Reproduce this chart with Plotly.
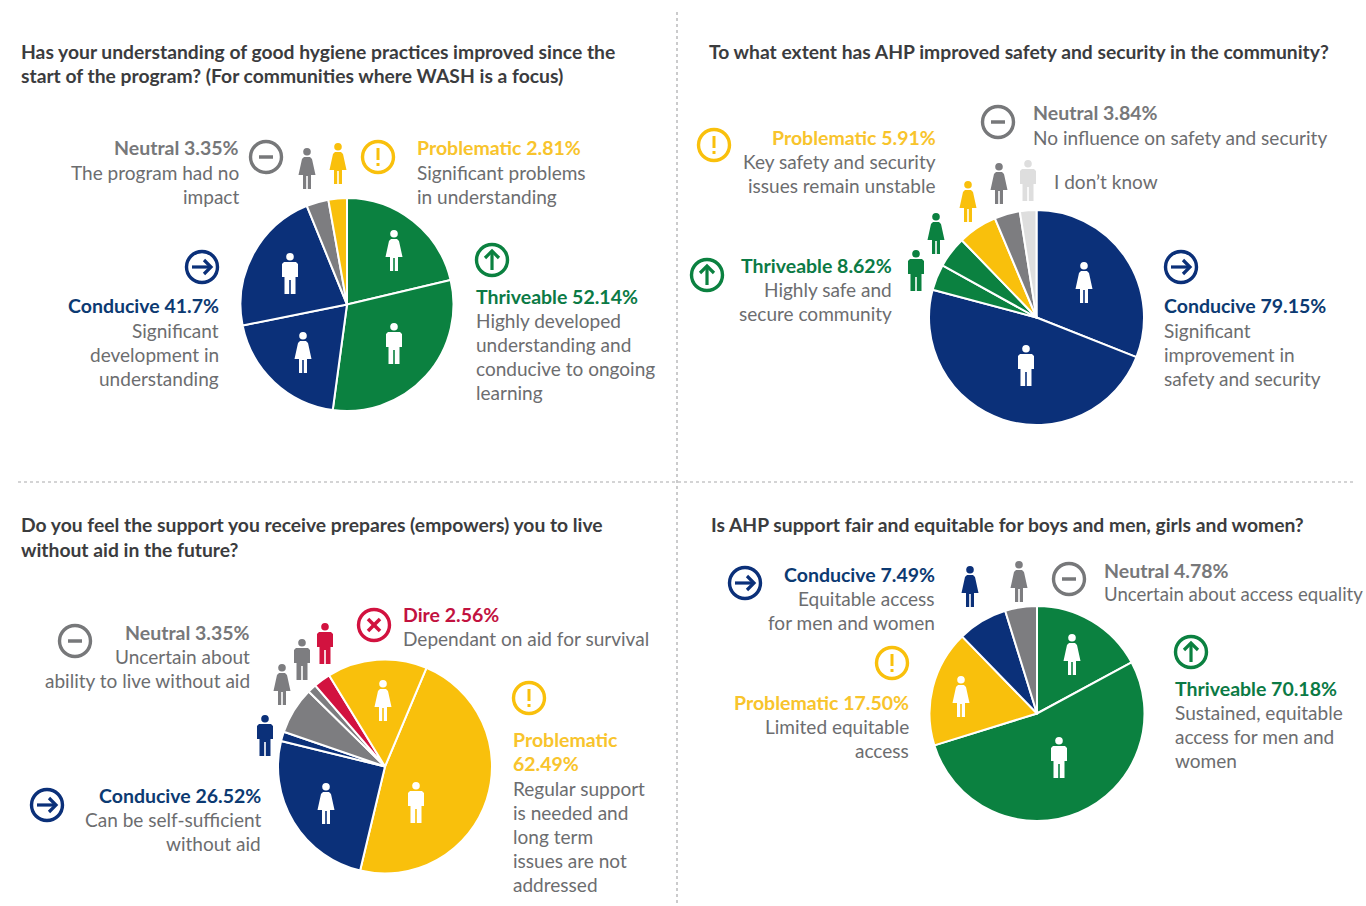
import plotly.graph_objects as go

W, H = 1366, 906
GREEN, BLUE, YELLOW, GREY, LIGHT, RED = "#0b8140", "#0b3079", "#f9c00c", "#7d7d80", "#dedede", "#d2123f"
T_GREEN, T_BLUE, T_YELLOW, T_GREY, T_RED = "#0b7a45", "#0c3a72", "#f8c42c", "#77787a", "#c2123f"
BODY, TITLE = "#6c6d6f", "#3b3c3e"
FONT = "Lato"

# ---- pie data (clockwise from the start angle) ----
pie1_names = ["Thriveable (women)", "Thriveable (men)", "Conducive (women)", "Conducive (men)", "Neutral", "Problematic"]
pie1_values = [21.3, 30.84, 19.7, 22.0, 3.35, 2.81]
pie1_colors = [GREEN, GREEN, BLUE, BLUE, GREY, YELLOW]

pie2_names = ["Conducive (women)", "Conducive (men)", "Thriveable (men)", "Thriveable (women)", "Problematic", "Neutral", "I don't know"]
pie2_values = [31.0, 48.15, 3.9, 4.72, 5.91, 3.84, 2.48]
pie2_colors = [BLUE, BLUE, GREEN, GREEN, YELLOW, GREY, LIGHT]

pie3_names = ["Problematic (men)", "Conducive (women)", "Conducive (men)", "Neutral (women)", "Neutral (men)", "Dire", "Problematic (women)"]
pie3_values = [47.4, 25.1, 1.42, 7.1, 1.33, 2.56, 15.09]
pie3_colors = [YELLOW, BLUE, BLUE, GREY, GREY, RED, YELLOW]

pie4_names = ["Thriveable (women)", "Thriveable (men)", "Problematic", "Conducive", "Neutral"]
pie4_values = [17.1, 53.08, 17.5, 7.49, 4.78]
pie4_colors = [GREEN, GREEN, YELLOW, BLUE, GREY]

# (names, values, colours, centre x, centre y, radius, start angle)
pies = [
    (pie1_names, pie1_values, pie1_colors, 347, 304.5, 106.5, 0),
    (pie2_names, pie2_values, pie2_colors, 1036.5, 317.5, 107.5, 0),
    (pie3_names, pie3_values, pie3_colors, 385, 766.5, 107, 22.8),
    (pie4_names, pie4_values, pie4_colors, 1037, 713.5, 107.5, 0),
]

# ---- text: x, anchor, first y, colour of first line, lines ----
titles = [
    (21, 52, "Has your understanding of good hygiene practices improved since the"),
    (21, 76, "start of the program? (For communities where WASH is a focus)"),
    (709, 52, "To what extent has AHP improved safety and security in the community?"),
    (21, 524, "Do you feel the support you receive prepares (empowers) you to live"),
    (21, 549, "without aid in the future?"),
    (711, 524, "Is AHP support fair and equitable for boys and men, girls and women?"),
]
blocks = [
    (239, "right", 148, T_GREY, ["Neutral 3.35%", "The program had no", "impact"]),
    (417, "left", 148, T_YELLOW, ["Problematic 2.81%", "Significant problems", "in understanding"]),
    (219, "right", 306, T_BLUE, ["Conducive 41.7%", "Significant", "development in", "understanding"]),
    (476, "left", 296, T_GREEN, ["Thriveable 52.14%", "Highly developed", "understanding and", "conducive to ongoing", "learning"]),
    (1033, "left", 113, T_GREY, ["Neutral 3.84%", "No influence on safety and security"]),
    (936, "right", 137, T_YELLOW, ["Problematic 5.91%", "Key safety and security", "issues remain unstable"]),
    (892, "right", 265, T_GREEN, ["Thriveable 8.62%", "Highly safe and", "secure community"]),
    (1164, "left", 306, T_BLUE, ["Conducive 79.15%", "Significant", "improvement in", "safety and security"]),
    (250, "right", 632, T_GREY, ["Neutral 3.35%", "Uncertain about", "ability to live without aid"]),
    (403, "left", 614, T_RED, ["Dire 2.56%", "Dependant on aid for survival"]),
    (513, "left", 739, T_YELLOW, ["Problematic", "62.49%"]),
    (261, "right", 795, T_BLUE, ["Conducive 26.52%", "Can be self-sufficient", "without aid"]),
    (935, "right", 574, T_BLUE, ["Conducive 7.49%", "Equitable access", "for men and women"]),
    (1104, "left", 570, T_GREY, ["Neutral 4.78%", "Uncertain about access equality"]),
    (909, "right", 702, T_YELLOW, ["Problematic 17.50%", "Limited equitable", "access"]),
    (1175, "left", 688, T_GREEN, ["Thriveable 70.18%", "Sustained, equitable", "access for men and", "women"]),
]
plain_blocks = [
    (1054, "left", 181, ["I don\u2019t know"]),
    (513, "left", 788, ["Regular support", "is needed and", "long term", "issues are not", "addressed"]),
]

# ---- icons ----
rings = [  # cx, cy, colour, glyph
    (266, 157, T_GREY, "minus"), (378, 157, YELLOW, "bang"), (492, 260, GREEN, "up"), (202, 267, BLUE, "right"),
    (998, 122, T_GREY, "minus"), (714, 145, YELLOW, "bang"), (707, 275, GREEN, "up"), (1181, 267, BLUE, "right"),
    (75, 641, T_GREY, "minus"), (374, 625, RED, "x"), (529, 698, YELLOW, "bang"), (47, 805, BLUE, "right"),
    (745, 583, BLUE, "right"), (1069, 579, T_GREY, "minus"), (892, 663, YELLOW, "bang"), (1191, 652, GREEN, "up"),
]
people = [  # cx, top, kind, colour
    (307, 148, "w", GREY), (338, 143, "w", YELLOW), (394, 230, "w", "white"), (394, 323, "m", "white"),
    (290, 253, "m", "white"), (303, 332, "w", "white"),
    (999, 163, "w", GREY), (1028, 160, "m", LIGHT), (968, 181, "w", YELLOW), (936, 213, "w", GREEN),
    (916, 250, "m", GREEN), (1084, 262, "w", "white"), (1026, 345, "m", "white"),
    (282, 664, "w", GREY), (302, 639, "m", GREY), (325, 623, "m", RED), (265, 715, "m", BLUE),
    (383, 680, "w", "white"), (416, 782, "m", "white"), (326, 783, "w", "white"),
    (970, 566, "w", BLUE), (1019, 561, "w", GREY), (1072, 634, "w", "white"), (1059, 737, "m", "white"),
    (961, 676, "w", "white"),
]

MAN = [(-6, 9), (6, 9), (8, 11), (8, 24), (5.5, 24), (5.5, 41), (0.8, 41), (0.8, 27), (-0.8, 27), (-0.8, 41), (-5.5, 41), (-5.5, 24), (-8, 24), (-8, 11)]
WOMAN = [(-3, 9), (3, 9), (5, 11), (8.5, 27), (4, 27), (4, 41), (0.8, 41), (0.8, 28), (-0.8, 28), (-0.8, 41), (-4, 41), (-4, 27), (-8.5, 27), (-5, 11)]


def fx(x):
    return x / W


def fy(y):
    return 1 - y / H


def polygon(pts):
    return "M" + " L".join(f"{fx(x):.5f},{fy(y):.5f}" for x, y in pts) + " Z"


shapes = []


def seg(pts, color, width=3):
    d = "M" + " L".join(f"{fx(x):.5f},{fy(y):.5f}" for x, y in pts)
    shapes.append(dict(type="path", xref="paper", yref="paper", path=d, line=dict(color=color, width=width)))


for cx, cy, color, glyph in rings:
    r = 15.5
    shapes.append(dict(type="circle", xref="paper", yref="paper", x0=fx(cx - r), x1=fx(cx + r), y0=fy(cy + r), y1=fy(cy - r),
                       line=dict(color=color, width=3.4), fillcolor="rgba(0,0,0,0)"))
    if glyph == "minus":
        seg([(cx - 7, cy), (cx + 7, cy)], color, 3.5)
    elif glyph == "bang":
        seg([(cx, cy - 9), (cx, cy + 3)], color, 3)
        seg([(cx, cy + 6), (cx, cy + 9)], color, 3)
    elif glyph == "right":
        seg([(cx - 10, cy), (cx + 9, cy)], color, 3.2)
        seg([(cx + 2, cy - 7), (cx + 9, cy), (cx + 2, cy + 7)], color, 3.2)
    elif glyph == "up":
        seg([(cx, cy + 10), (cx, cy - 9)], color, 3.2)
        seg([(cx - 7, cy - 2), (cx, cy - 9), (cx + 7, cy - 2)], color, 3.2)
    elif glyph == "x":
        seg([(cx - 6, cy - 6), (cx + 6, cy + 6)], color, 3.5)
        seg([(cx - 6, cy + 6), (cx + 6, cy - 6)], color, 3.5)

for cx, top, kind, color in people:
    pts = MAN if kind == "m" else WOMAN
    shapes.append(dict(type="path", xref="paper", yref="paper", path=polygon([(cx + a, top + b) for a, b in pts]),
                       fillcolor=color, line=dict(width=0)))
    shapes.append(dict(type="circle", xref="paper", yref="paper", x0=fx(cx - 3.8), x1=fx(cx + 3.8),
                       y0=fy(top + 7.6), y1=fy(top + 0), fillcolor=color, line=dict(width=0)))

# dashed dividers
for x0, y0, x1, y1 in [(677, 12, 677, 903), (18, 482, 1356, 482)]:
    shapes.append(dict(type="line", xref="paper", yref="paper", x0=fx(x0), x1=fx(x1), y0=fy(y0), y1=fy(y1),
                       line=dict(color="#a9a9ab", width=1.2, dash="3px,3px")))

annotations = []


def text(x, y, s, color, anchor="left", size=19.05, bold=False):
    annotations.append(dict(x=fx(x), y=fy(y), xref="paper", yref="paper", xanchor=anchor, yanchor="middle",
                            text=f"<b>{s}</b>" if bold else s, showarrow=False, align=anchor,
                            borderpad=0, borderwidth=0,
                            font=dict(family=FONT, size=size, color=color)))


LINE = 24.2
HEAD_SIZE = 19.5
for x, y, s in titles:
    text(x, y, s, TITLE, size=19.3, bold=True)
for x, anchor, y0, color, lines in blocks:
    n_head = 2 if lines[0] == "Problematic" and lines[1] == "62.49%" else 1
    for i, ln in enumerate(lines):
        head = i < n_head
        size = HEAD_SIZE if head else (18.6 if ln.startswith("Uncertain about access") else 19.05)
        text(x, y0 + i * LINE, ln, color if head else BODY, anchor, size=size, bold=head)
for x, anchor, y0, lines in plain_blocks:
    for i, ln in enumerate(lines):
        text(x, y0 + i * LINE, ln, BODY, anchor)

fig = go.Figure()
for names, values, colors, cx, cy, r, start in pies:
    fig.add_trace(go.Pie(
        labels=names, values=values, sort=False, direction="clockwise", rotation=start,
        marker=dict(colors=colors, line=dict(color="white", width=2)),
        textinfo="none", showlegend=False,
        hovertemplate="%{label}: %{value}%<extra></extra>",
        domain=dict(x=[fx(cx - r), fx(cx + r)], y=[fy(cy + r), fy(cy - r)]),
    ))

fig.update_layout(width=W, height=H, margin=dict(l=0, r=0, t=0, b=0), paper_bgcolor="white", plot_bgcolor="white",
                  shapes=shapes, annotations=annotations, showlegend=False, font=dict(family=FONT))
fig.write_html("out.html", config=dict(displayModeBar=False),
               post_script="document.body.style.margin='0';document.body.style.overflow='hidden';")
